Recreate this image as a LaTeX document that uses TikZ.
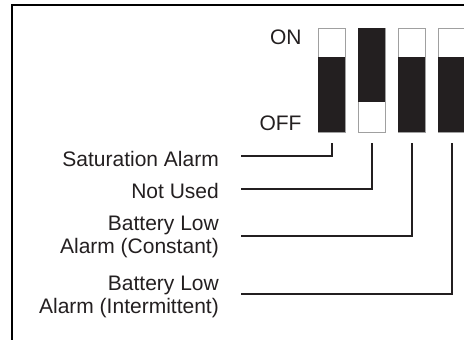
\documentclass[tikz,border=0pt]{standalone}
\usepackage{fontspec}
\setmainfont{Liberation Sans}
\definecolor{ink}{HTML}{231F20}
\definecolor{swgray}{HTML}{A0A0A0}
\begin{document}
\begin{tikzpicture}[x=1bp,y=-1bp,
  lab/.style={anchor=base east, inner sep=0pt, font=\fontsize{21bp}{23bp}\selectfont, text=ink},
  swbox/.style={draw=swgray, line width=0.9bp, minimum width=26.5bp, minimum height=104bp, inner sep=0pt, anchor=north west},
  conn/.style={draw=ink, line width=1.3bp},
  frame/.style={draw=black, line width=1.8bp}]
\useasboundingbox (0,0) rectangle (464,339);
% frame
\draw[frame] (12,345) -- (12,4.7) -- (470,4.7);
% ON / OFF
\node[lab] (on) at (301.7,44) {ON};
\node[lab] (off) at (301.7,130.5) {OFF};
% switches
\node[swbox] (sw1) at (318.3,28) {};
\node[swbox] (sw2) at (358.3,28) {};
\node[swbox] (sw3) at (398.3,28) {};
\node[swbox] (sw4) at (438.3,28) {};
\fill[ink] (318.3,57) rectangle (344.8,132);
\fill[ink] (358.3,28) rectangle (384.8,102);
\fill[ink] (398.3,57) rectangle (424.8,132);
\fill[ink] (438.3,57) rectangle (464.8,132);
% labels
\node[lab] (l1) at (219,166) {Saturation Alarm};
\node[lab] (l2) at (219,198) {Not Used};
\node[lab] (l3a) at (219,230) {Battery Low};
\node[lab] (l3b) at (219,253) {Alarm (Constant)};
\node[lab] (l4a) at (219,290) {Battery Low};
\node[lab] (l4b) at (219,313) {Alarm (Intermittent)};
% connector ends
\coordinate (e1) at (241,156);
\coordinate (e2) at (241,189);
\coordinate (e3) at (241,236);
\coordinate (e4) at (241,294);
\draw[conn] (e1) -| ([yshift=-10bp]sw1.south);
\draw[conn] (e2) -| ([yshift=-10bp]sw2.south);
\draw[conn] (e3) -| ([yshift=-10bp]sw3.south);
\draw[conn] (e4) -| ([yshift=-10bp]sw4.south);
\end{tikzpicture}
\end{document}
